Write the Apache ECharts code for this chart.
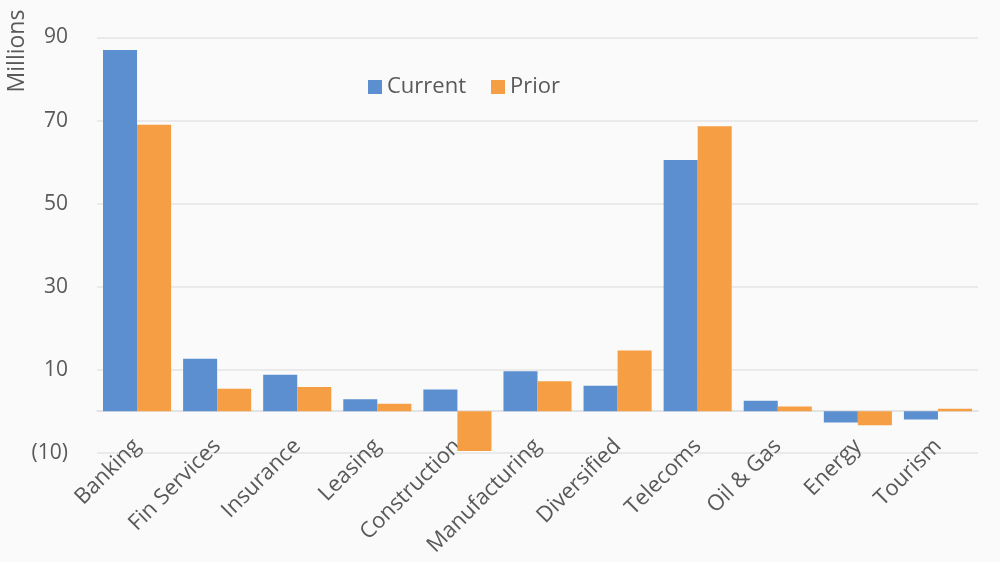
<!DOCTYPE html>
<html>
<head>
<meta charset="utf-8">
<script src="https://cdn.jsdelivr.net/npm/echarts@6/dist/echarts.min.js"></script>
<style>
  html, body { margin: 0; padding: 0; background: #fafafa; }
  #chart { width: 1000px; height: 562px; }
</style>
</head>
<body>
<div id="chart"></div>
<script>
var sectors = ['Banking', 'Fin Services', 'Insurance', 'Leasing', 'Construction',
  'Manufacturing', 'Diversified', 'Telecoms', 'Oil & Gas', 'Energy', 'Tourism'];
var current = [87.0, 12.6, 8.8, 2.9, 5.2, 9.6, 6.1, 60.5, 2.5, -2.7, -2.0];
var prior = [69.0, 5.4, 5.8, 1.8, -9.6, 7.2, 14.6, 68.6, 1.1, -3.4, 0.6];

var font = 'Open Sans';
var grey = '#595959';

var chart = echarts.init(document.getElementById('chart'));
var option = {
  backgroundColor: '#fafafa',
  animation: false,
  color: ['#5b8fd0', '#f59e43'],
  textStyle: {fontFamily: font},
  legend: {
    data: ['Current', 'Prior'],
    left: 363,
    top: 71,
    itemWidth: 14,
    itemHeight: 14,
    itemGap: 25,
    icon: 'rect',
    textStyle: {fontSize: 22, color: grey, fontFamily: font}
  },
  grid: {left: 97, right: 22, top: 37.5, bottom: 109.3, outerBoundsMode: 'none', containLabel: false},
  graphic: [{
    type: 'text',
    x: 17,
    y: 51,
    rotation: Math.PI / 2,
    style: {
      text: 'Millions',
      fill: grey,
      font: '23px "Open Sans"',
      textAlign: 'center',
      textVerticalAlign: 'middle'
    }
  }],
  xAxis: {
    type: 'category',
    data: sectors,
    axisLine: {onZero: true, lineStyle: {color: '#dcdcdc', width: 1.5}},
    axisTick: {show: false},
    axisLabel: {
      rotate: 45,
      interval: 0,
      margin: -10,
      fontSize: 22,
      color: grey,
      fontFamily: font
    }
  },
  yAxis: {
    type: 'value',
    min: -10,
    max: 90,
    interval: 20,
    axisLine: {show: false},
    axisTick: {show: false},
    splitLine: {lineStyle: {color: '#e4e4e4', width: 1.5}},
    axisLabel: {
      fontSize: 21,
      color: grey,
      margin: 29,
      fontFamily: font,
      formatter: function(v){
        return v < 0 ? '(' + Math.abs(v) + ')' : String(v);
      }
    }
  },
  series: [{
    name: 'Current',
    type: 'bar',
    data: current,
    barGap: '0%',
    barCategoryGap: '15%'
  }, {
    name: 'Prior',
    type: 'bar',
    data: prior
  }]
};
chart.setOption(option);
</script>
</body>
</html>
